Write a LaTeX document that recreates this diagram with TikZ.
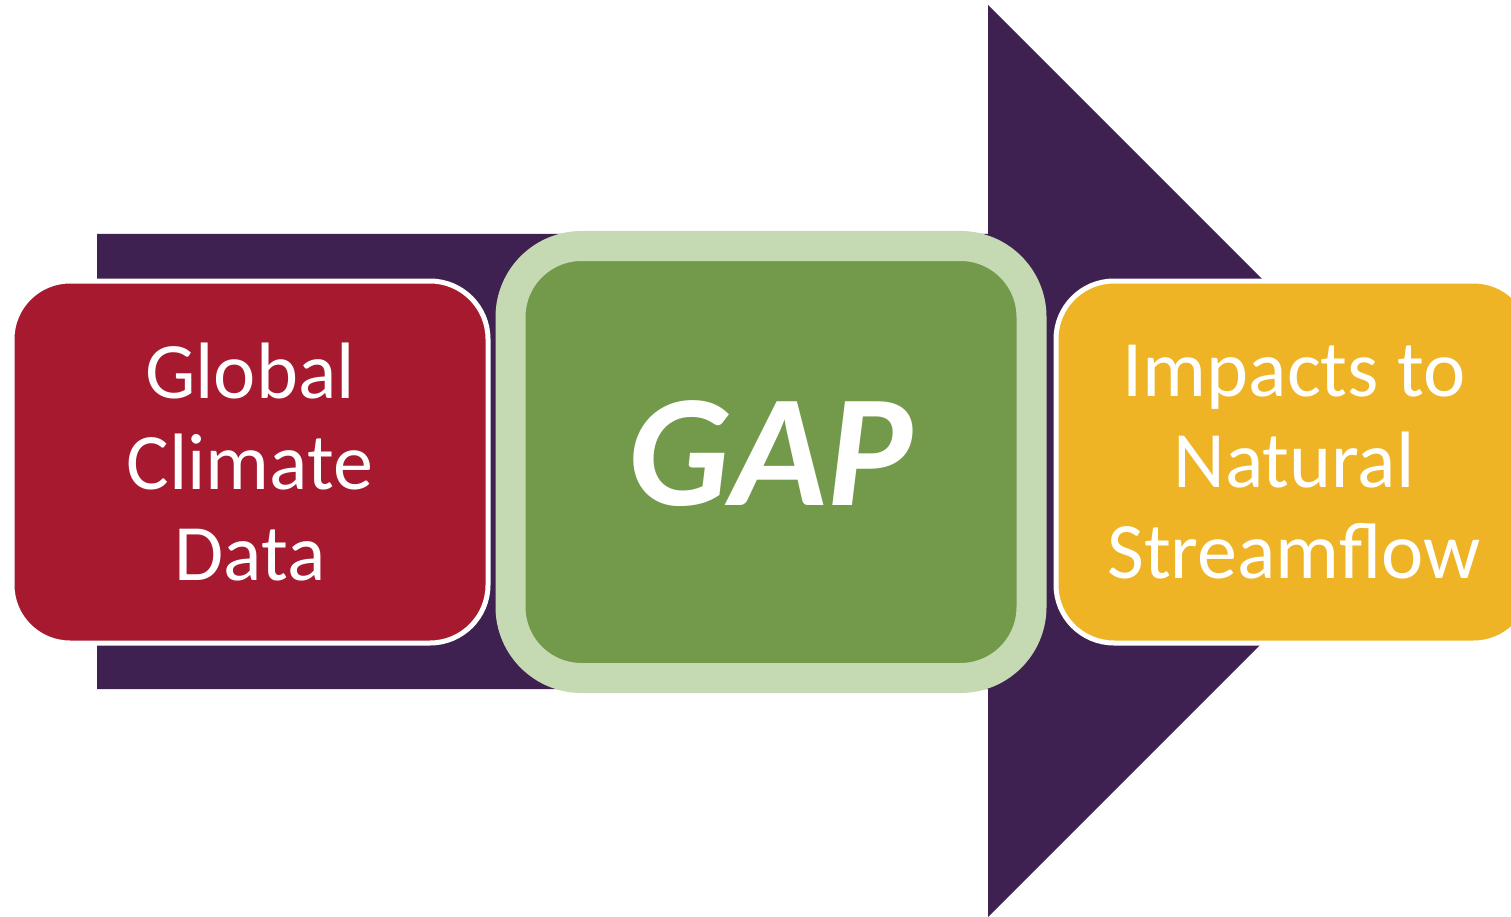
\documentclass[tikz,border=0pt]{standalone}
\usepackage{fontspec}
\setmainfont{Carlito}
\definecolor{arrowpurple}{RGB}{63,33,81}
\definecolor{climred}{RGB}{166,25,46}
\definecolor{gapgreen}{RGB}{115,154,74}
\definecolor{gaprim}{RGB}{197,218,179}
\definecolor{flowyellow}{RGB}{239,180,38}

\begin{document}
\begin{tikzpicture}[x=1pt,y=-1pt,
    stage/.style={draw=white,line width=5pt,rounded corners=58pt,
      minimum width=476pt,minimum height=362pt,inner sep=0pt,
      text=white,align=center,font=\fontsize{80}{91}\selectfont},
    gapbox/.style={fill=gapgreen,draw=gaprim,line width=30pt,rounded corners=71pt,
      minimum width=521pt,minimum height=432pt,inner sep=0pt}]
  \useasboundingbox (0,0) rectangle (1511,917);
  \clip (0,0) rectangle (1511,917);
  % big arrow behind the three stages
  \fill[arrowpurple] (97,234) -- (988,234) -- (988,5) -- (1444,461)
    -- (988,917) -- (988,689) -- (97,689) -- cycle;
  % the stages
  \node[stage,fill=climred] (climate) at (250,462) {Global\\Climate\\Data};
  \node[gapbox] (gap) at (771,462) {};
  \node[text=white,inner sep=0pt,font=\fontsize{160}{160}\selectfont\bfseries\itshape]
    (gaplabel) at ([yshift=8pt]gap.center) {GAP};
  \node[stage,fill=flowyellow] (impacts) at (1294,462) {Impacts to\\Natural\\Streamflow};
\end{tikzpicture}
\end{document}
